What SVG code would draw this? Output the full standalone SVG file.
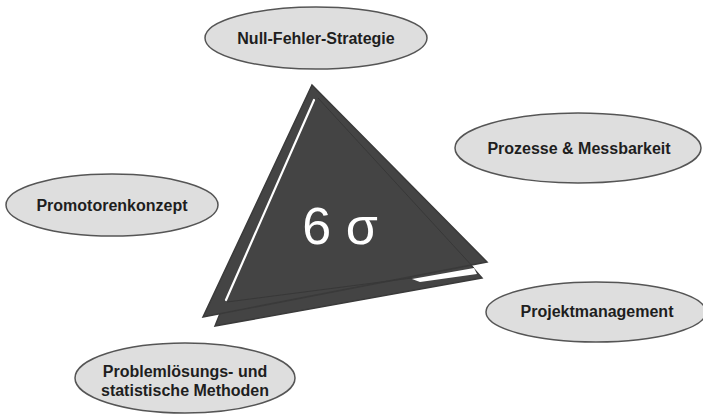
<svg xmlns="http://www.w3.org/2000/svg" width="703" height="420" viewBox="0 0 703 420">
<style>
.node ellipse{fill:#dedede;stroke:#555;stroke-width:1.5}
.node text{font-family:"Liberation Sans",Arial,sans-serif;font-weight:bold;font-size:16px;fill:#1e1e1e;text-anchor:middle}
.tri{fill:#444;stroke:#3a3a3a;stroke-width:1.5;stroke-linejoin:miter}
.hl{stroke:#fff;fill:none;stroke-linecap:round}
</style>
<rect width="703" height="420" fill="#fff"/>
<g id="center">
<polygon class="tri" points="312,86 215,326 482,278"/>
<polygon class="tri" points="312,85 203,317 487,262"/>
<polygon points="412,279 474,268 477,274 420,282" fill="#fff"/>
<line class="hl" x1="314" y1="100" x2="226" y2="300" stroke-width="2.2"/>
<line x1="227" y1="302" x2="412" y2="278" stroke="#383838" stroke-width="1"/>
<line x1="318" y1="98" x2="474" y2="268" stroke="#383838" stroke-width="1"/>
<text x="340" y="244" font-family="Liberation Sans,Arial,sans-serif" font-size="52" fill="#fff" text-anchor="middle">6 σ</text>
</g>
<g id="connectors"></g>
<g id="n1" class="node"><ellipse cx="316" cy="38" rx="111" ry="31"/><text x="316" y="44">Null-Fehler-Strategie</text></g>
<g id="n2" class="node"><ellipse cx="578" cy="148" rx="123" ry="35"/><text x="579" y="154">Prozesse &amp; Messbarkeit</text></g>
<g id="n3" class="node"><ellipse cx="112" cy="205" rx="106" ry="31"/><text x="112" y="211">Promotorenkonzept</text></g>
<g id="n4" class="node"><ellipse cx="596" cy="312" rx="110" ry="30"/><text x="597" y="317">Projektmanagement</text></g>
<g id="n5" class="node"><ellipse cx="185" cy="378" rx="110" ry="35"/><text x="185" y="377">Problemlösungs- und</text><text x="185" y="396">statistische Methoden</text></g>
</svg>
